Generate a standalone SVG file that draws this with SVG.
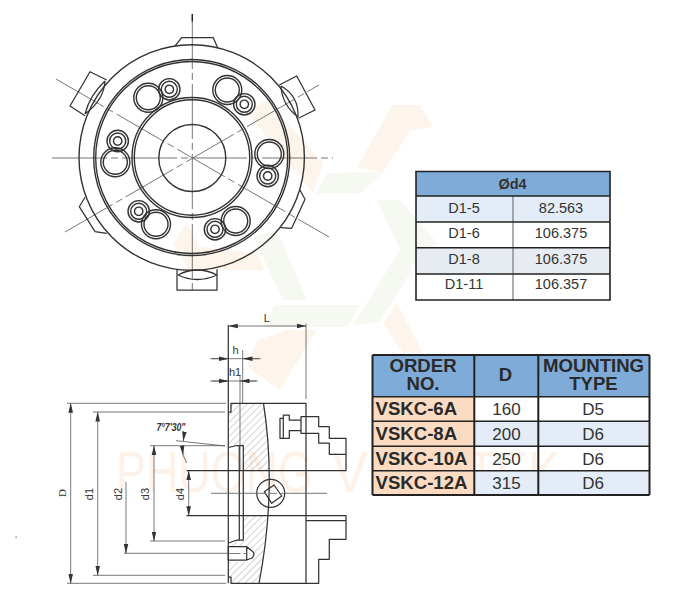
<svg xmlns="http://www.w3.org/2000/svg" xmlns:xlink="http://www.w3.org/1999/xlink" width="678" height="615" viewBox="0 0 678 615">
<style>
text{font-family:"Liberation Sans",Arial,sans-serif;fill:#333}
.o{fill:none;stroke:#333;stroke-width:1.25;stroke-linejoin:round}
.h{fill:none;stroke:#333;stroke-width:1.4}
.c{fill:none;stroke:#666;stroke-width:.9;stroke-dasharray:55 4 7 4}
.d{fill:none;stroke:#555;stroke-width:.8}
.a{fill:none;stroke:#555;stroke-width:.8;marker-end:url(#ar)}
.b{stroke:#222;stroke-width:1.6;fill:none}
.g{stroke:#777;stroke-width:1.2;fill:none}
.wo{fill:#fdf4ec}
.wg{fill:#f6f9f1}
.wt{fill:#fef1e7;font-size:58px}
.dim{font-size:11px}
.t1{font-size:14.5px;text-anchor:middle}
.t2{font-size:17px;text-anchor:middle}
.t3{font-size:18.6px;font-weight:bold;fill:#2a2a2a}
.m{text-anchor:middle}
.soft{filter:url(#soft)}
</style>
<defs>
<filter id="soft" x="-5%" y="-5%" width="110%" height="110%"><feGaussianBlur stdDeviation="0.35"/></filter>
<marker id="ar" markerWidth="10" markerHeight="6" refX="9.5" refY="3" orient="auto" markerUnits="userSpaceOnUse"><path d="M0 0.7L10 3L0 5.3Z" fill="#333"/></marker>
<pattern id="hatch" width="5" height="5" patternUnits="userSpaceOnUse" patternTransform="rotate(-45)"><line x1="0" y1="0" x2="5" y2="0" stroke="#808080" stroke-width=".7"/></pattern>
<g id="big"><circle r="14.5" class="h"/><circle r="12" class="h"/></g>
<g id="small"><circle r="10.7" class="h"/><circle r="8" class="h"/><circle r="4.2" class="h"/></g>
</defs>

<g id="watermark">
<path class="wo" d="M392 105H420L433 127L411 130L383 172L357 168Z"/>
<path class="wg" d="M327 173L383 172L360 194H315Z"/>
<path class="wo" d="M247 113L267 100L323 163L313 193L290 165Z"/>
<path class="wg" d="M377 200H400L437 243L410 267L400 250Z"/>
<path class="wg" d="M400 250L412 270L380 322L353 325Z"/>
<path class="wg" d="M275 305H360L348 327H262Z"/>
<path class="wo" d="M257 340L287 330H317L280 390L247 367Z"/>
<path class="wo" d="M397 303L423 353H403L383 323Z"/>
<path class="wg" d="M253 237L277 230L307 300H283Z"/>
<path class="wo" d="M173 243L187 223L200 247L257 253L265 270H197L190 272Z"/>
<text class="wt" x="116" y="492" textLength="197" lengthAdjust="spacingAndGlyphs">PHUONG</text>
<text class="wt" x="332" y="492" textLength="36" lengthAdjust="spacingAndGlyphs">V</text>
<text class="wt" x="467" y="492" textLength="93" lengthAdjust="spacingAndGlyphs">TEK</text>
</g>

<g id="top-view" class="soft">
<path class="c" d="M192.3 14V292"/>
<path d="M192.3 14V21.5" stroke="#222" stroke-width="1.4"/>
<path class="c" d="M52 158H333"/>
<path class="c" d="M56 79L329 237"/>
<path class="c" d="M65 232L319 85"/>
<path class="o" d="M175 46L181.7 37.7H213.3L217.7 47.7"/>
<path class="o" d="M177 269.3V290H217V269.3"/>
<path class="o" d="M178 275Q197 265 217 275M178 275Q197 284 217 275"/>
<path class="o" d="M279.3 85L296.7 76L315 110L298.3 118.3"/>
<path class="o" d="M281 86Q299 96 298 117M281 86Q282 105 298 117"/>
<path class="o" d="M106.7 80L90 71.7L70 106L85 115.7"/>
<path class="o" d="M105 81Q90 95 85 114M105 81Q104 100 85 114"/>
<path class="o" d="M85 197.3L79.3 206.7L95 231.7L106.7 233.3"/>
<path class="o" d="M300 190L305 199.3L291.7 228.3L280.7 227.7"/>
<circle cx="191.7" cy="157.5" r="112.7" class="h"/>
<circle cx="191.7" cy="157.5" r="98" class="h"/>
<circle cx="191.7" cy="157.5" r="96" class="h"/>
<circle cx="192" cy="157.5" r="60" class="h"/>
<circle cx="192" cy="157.5" r="57.7" class="h"/>
<circle cx="192.3" cy="158" r="33.5" class="h"/>
<use xlink:href="#big" href="#big" x="148.3" y="97.7"/>
<use xlink:href="#small" href="#small" x="169.3" y="89.3"/>
<use xlink:href="#big" href="#big" x="227.3" y="90"/>
<use xlink:href="#small" href="#small" x="244.3" y="104.3"/>
<use xlink:href="#big" href="#big" x="269.3" y="154"/>
<use xlink:href="#small" href="#small" x="267.7" y="176"/>
<use xlink:href="#big" href="#big" x="235.7" y="221"/>
<use xlink:href="#small" href="#small" x="215" y="229.3"/>
<use xlink:href="#big" href="#big" x="156" y="224.3"/>
<use xlink:href="#small" href="#small" x="138.7" y="211.3"/>
<use xlink:href="#big" href="#big" x="115.3" y="162.3"/>
<use xlink:href="#small" href="#small" x="117.7" y="141"/>
</g>

<g id="side-view">
<g class="soft">
<path d="M231 403.3H263.5Q272 450 268.6 470.7H243.3V447L239 446.7H237L228.5 448V415L231 412Z" fill="url(#hatch)"/>
<path d="M243.3 515.7H267Q264 550 259 583.3H231V580L228.5 576V562H246L255 556L246 546.7H228.5V543L239 540H243.3Z" fill="url(#hatch)"/>
<path class="o" d="M228.3 325V583.3"/>
<path class="o" d="M228.3 412H231V403.3H306V583.3H231V577H228.3"/>
<path class="o" d="M263.5 403.3Q277 490 259 583.3"/>
<path class="o" d="M306 583.3H318.7V559.3H329.3V539.3H346V515.7H186.5"/>
<path class="o" d="M306 520.7H346"/>
<path class="o" d="M186.5 470.7H346V438.3H329.3V426.7H318.7V416.7H301V433.3H318.7V443H329.3V454.3H346"/>
<path class="o" d="M301 420H289.3V415H283.3V418.3H280V438.3H289.3V430.7H301"/>
<path class="o" d="M283.3 418.3V438.3"/>
<path class="o" d="M228.3 447.5L237 445.5H243.3V540H237L228.3 543"/>
<path class="o" d="M239.3 446V540"/>
<path class="o" d="M228.3 546.7H246.7L252 551Q256 554 252 558L246.7 560H228.3ZM246.7 546.7V560"/>
<circle cx="270.7" cy="493.3" r="14" class="o"/>
<path class="o" d="M264.3 491.7L274 485L281.7 496L271.7 503.3Z"/>
<path class="c" d="M211 493.3H327" stroke-dasharray="35 4 7 4"/>
<path class="d" d="M228.5 553.5H246" stroke-dasharray="12 3"/>
</g>
<g id="dimensions">
<path class="d" d="M306 323.5V399"/>
<path class="a" d="M267 326H228.3"/>
<path class="a" d="M267 326H306"/>
<path class="d" d="M210 358.7H261"/>
<path class="a" d="M212 358.7H228.3"/>
<path class="a" d="M259 358.7H243"/>
<path class="d" d="M210 381H258"/>
<path class="a" d="M212 381H228.3"/>
<path class="a" d="M256 381H240"/>
<path class="d" d="M242.7 350V403M240 375V470"/>
<path class="d" d="M67 403.3H226M67 583.3H226M93 412H225M93 575.3H225M124 553.3H228M150 445.7H225M150 541H225"/>
<path class="a" d="M70.7 420V403.3"/>
<path class="a" d="M70.7 420V583.3"/>
<path class="a" d="M97.7 430V412"/>
<path class="a" d="M97.7 430V575.3"/>
<path class="a" d="M126 481.7V553.3"/>
<path class="a" d="M154 460V445.7"/>
<path class="a" d="M154 460V541"/>
<path class="a" d="M188.7 490V470.7"/>
<path class="a" d="M188.7 490V515.7"/>
<path class="d" d="M176 440.7L225 446"/>
<path class="a" d="M184.3 433L183.3 441"/>
<path class="a" d="M182.5 450L183 455"/>
<path class="d" d="M183 455L186.7 463"/>
<text class="dim m" x="266.7" y="322">L</text>
<text class="dim m" x="235.5" y="354">h</text>
<text class="dim m" x="235" y="376">h1</text>
<text class="dim m" transform="translate(66 493) rotate(-90)" style="font-family:'Liberation Serif',serif">D</text>
<text class="dim m" transform="translate(93 494) rotate(-90)">d1</text>
<text class="dim m" transform="translate(121.5 494) rotate(-90)">d2</text>
<text class="dim m" transform="translate(149 494) rotate(-90)">d3</text>
<text class="dim m" transform="translate(184 494) rotate(-90)">d4</text>
<text x="156.5" y="430.5" font-size="10" font-style="italic" font-weight="bold" textLength="29" lengthAdjust="spacingAndGlyphs">7°7'30"</text>
</g>
<rect x="15.5" y="536.5" width="1.2" height="1.2" fill="#555"/>
</g>

<g id="table-d4">
<rect x="416" y="171.5" width="194" height="24.5" fill="#7fabd9"/>
<rect x="416" y="196" width="194" height="26" fill="#e4ecf7"/>
<rect x="416" y="247.7" width="194" height="26.3" fill="#e7ebf2"/>
<path class="g" d="M513 196V300"/>
<path class="b" d="M416 171.5H610V300H416ZM416 196H610M416 222H610M416 247.7H610M416 274H610"/>
<text class="t1" style="font-weight:bold" x="512.5" y="189">Ød4</text>
<text class="t1" x="464" y="212.5">D1-5</text><text class="t1" x="561" y="212.5">82.563</text>
<text class="t1" x="464" y="237.5">D1-6</text><text class="t1" x="561" y="237.5">106.375</text>
<text class="t1" x="464" y="263.5">D1-8</text><text class="t1" x="561" y="263.5">106.375</text>
<text class="t1" x="464" y="289">D1-11</text><text class="t1" x="561" y="289">106.357</text>
</g>

<g id="table-order">
<rect x="372.5" y="355" width="277" height="41.7" fill="#7fabd9"/>
<rect x="372.5" y="396.7" width="101.8" height="98.3" fill="#fbdcc3"/>
<rect x="474.3" y="421.3" width="175" height="25" fill="#e4ecf7"/>
<rect x="474.3" y="470.7" width="175" height="24.3" fill="#e4ecf7"/>
<path class="b" d="M372.5 355H649.5M372.5 495H649.5M372.5 355V495M474.3 355V495M538.3 355V495M649.5 355V495" style="stroke-width:2"/>
<path class="b" d="M372.5 396.7H649.5M372.5 421.3H649.5M372.5 446.3H649.5M372.5 470.7H649.5"/>
<text class="t3 m" x="423" y="372">ORDER</text>
<text class="t3 m" x="423" y="390">NO.</text>
<text class="t3 m" x="505.5" y="381">D</text>
<text class="t3 m" x="593.5" y="372" textLength="101">MOUNTING</text>
<text class="t3 m" x="593.5" y="390">TYPE</text>
<text class="t3" x="375.5" y="415">VSKC-6A</text>
<text class="t3" x="375.5" y="440">VSKC-8A</text>
<text class="t3" x="375.5" y="464.5">VSKC-10A</text>
<text class="t3" x="375.5" y="489">VSKC-12A</text>
<text class="t2" x="506.5" y="415">160</text><text class="t2" x="593" y="415">D5</text>
<text class="t2" x="506.5" y="440">200</text><text class="t2" x="593" y="440">D6</text>
<text class="t2" x="506.5" y="464.5">250</text><text class="t2" x="593" y="464.5">D6</text>
<text class="t2" x="506.5" y="489">315</text><text class="t2" x="593" y="489">D6</text>
</g>
</svg>
